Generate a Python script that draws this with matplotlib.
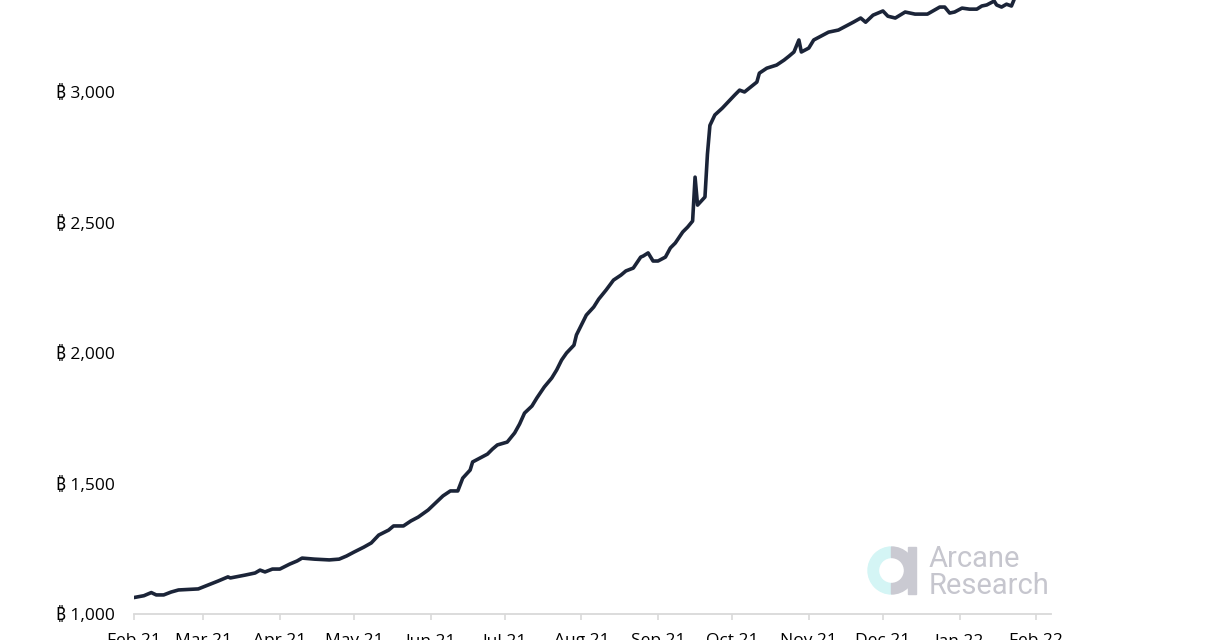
import matplotlib
matplotlib.use('Agg')
import matplotlib.pyplot as plt
import matplotlib.dates as mdates
from matplotlib.patches import Wedge, Rectangle
import pandas as pd

# BTC held
dates = ['2021-02-01', '2021-02-05', '2021-02-08', '2021-02-10', '2021-02-13', '2021-02-16',
         '2021-02-19', '2021-02-27', '2021-03-03', '2021-03-07', '2021-03-11', '2021-03-12',
         '2021-03-18', '2021-03-22', '2021-03-24', '2021-03-26', '2021-03-29', '2021-04-01',
         '2021-04-05', '2021-04-08', '2021-04-10', '2021-04-15', '2021-04-21', '2021-04-25',
         '2021-04-28', '2021-05-01', '2021-05-05', '2021-05-08', '2021-05-11', '2021-05-15',
         '2021-05-17', '2021-05-21', '2021-05-24', '2021-05-27', '2021-05-31', '2021-06-03',
         '2021-06-06', '2021-06-09', '2021-06-12', '2021-06-14', '2021-06-17', '2021-06-18',
         '2021-06-21', '2021-06-24', '2021-06-26', '2021-06-28', '2021-07-02', '2021-07-05',
         '2021-07-07', '2021-07-09', '2021-07-12', '2021-07-14', '2021-07-17', '2021-07-20',
         '2021-07-22', '2021-07-24', '2021-07-26', '2021-07-29', '2021-07-30', '2021-08-01',
         '2021-08-03', '2021-08-06', '2021-08-08', '2021-08-11', '2021-08-14', '2021-08-17',
         '2021-08-19', '2021-08-22', '2021-08-25', '2021-08-26', '2021-08-28', '2021-08-30',
         '2021-09-01', '2021-09-04', '2021-09-06', '2021-09-08', '2021-09-11', '2021-09-13',
         '2021-09-15', '2021-09-16', '2021-09-17', '2021-09-20', '2021-09-21', '2021-09-22',
         '2021-09-24', '2021-09-27', '2021-09-29', '2021-10-02', '2021-10-04', '2021-10-06',
         '2021-10-08', '2021-10-11', '2021-10-12', '2021-10-15', '2021-10-19', '2021-10-22',
         '2021-10-24', '2021-10-26', '2021-10-28', '2021-10-29', '2021-11-01', '2021-11-03',
         '2021-11-06', '2021-11-09', '2021-11-13', '2021-11-16', '2021-11-19', '2021-11-22',
         '2021-11-24', '2021-11-27', '2021-12-01', '2021-12-03', '2021-12-06', '2021-12-10',
         '2021-12-14', '2021-12-19', '2021-12-24', '2021-12-26', '2021-12-28', '2021-12-30',
         '2022-01-02', '2022-01-05', '2022-01-08', '2022-01-10', '2022-01-12', '2022-01-15',
         '2022-01-16', '2022-01-18', '2022-01-20', '2022-01-22', '2022-01-23', '2022-01-24']
btc = [1063, 1070, 1082, 1073, 1073, 1084,
       1092, 1096, 1111, 1126, 1142, 1138,
       1149, 1157, 1168, 1161, 1172, 1172,
       1191, 1203, 1214, 1210, 1207, 1210,
       1222, 1237, 1256, 1272, 1302, 1321,
       1337, 1337, 1356, 1371, 1398, 1425,
       1452, 1471, 1471, 1520, 1551, 1582,
       1597, 1612, 1631, 1647, 1658, 1693,
       1727, 1769, 1796, 1827, 1869, 1903,
       1934, 1972, 1999, 2029, 2068, 2106,
       2144, 2175, 2205, 2240, 2278, 2297,
       2313, 2324, 2366, 2370, 2382, 2351,
       2351, 2366, 2401, 2420, 2462, 2481,
       2504, 2672, 2565, 2596, 2760, 2870,
       2910, 2936, 2956, 2986, 3005, 2998,
       3013, 3036, 3070, 3089, 3101, 3120,
       3135, 3151, 3197, 3151, 3166, 3197,
       3212, 3227, 3235, 3250, 3265, 3281,
       3265, 3292, 3308, 3288, 3281, 3304,
       3296, 3296, 3323, 3323, 3300, 3304,
       3319, 3315, 3315, 3327, 3331, 3346,
       3331, 3323, 3334, 3327, 3350, 3390]

yticks = [1000, 1500, 2000, 2500, 3000]

plt.rcParams['font.family'] = ['Open Sans', 'Noto Sans', 'DejaVu Sans']

W, H = 1216, 640
fig = plt.figure(figsize=(W / 100, H / 100), dpi=100)
ax = fig.add_axes([134 / W, 26 / H, (1051 - 134) / W, 614 / H])

ax.plot(pd.to_datetime(dates), btc, color='#1b2438', lw=2.6, solid_joinstyle='round')

ax.set_ylim(1000, 3350)
ax.set_xlim(pd.Timestamp('2021-02-01'), pd.Timestamp('2022-02-07'))
ax.set_yticks(yticks)
ax.set_yticklabels(['\u20bf {:,}'.format(v) for v in yticks])
ax.xaxis.set_major_locator(mdates.MonthLocator())
ax.xaxis.set_major_formatter(mdates.DateFormatter('%b %y'))

for s in ['top', 'right', 'left']:
    ax.spines[s].set_visible(False)
ax.spines['bottom'].set_color('#d9d9d9')
ax.spines['bottom'].set_linewidth(1.3)
ax.tick_params(axis='y', length=0, pad=14, labelsize=12.5, labelcolor='#000000')
ax.tick_params(axis='x', length=4.5, width=1.2, color='#d9d9d9', pad=9.5,
               labelsize=12.5, labelcolor='#000000')

# watermark logo
lg = fig.add_axes([866 / W, (H - 597) / H, 52 / W, 52 / H])
lg.set_xlim(0, 52)
lg.set_ylim(0, 52)
lg.axis('off')
lg.add_patch(Wedge((25.5, 26.5), 23.5, 90, 270, width=10.5, color='#d4f5f5'))
lg.add_patch(Wedge((25.5, 26.5), 23.5, -90, 90, width=10.5, color='#cacad2'))
lg.add_patch(Rectangle((42, 3), 8, 47, color='#cacad2'))
fig.text(929 / W, (H - 567) / H, 'Arcane', fontsize=21, color='#c6c6ce',
         family=['Roboto', 'DejaVu Sans'], va='baseline', ha='left')
fig.text(929 / W, (H - 594) / H, 'Research', fontsize=21, color='#c6c6ce',
         family=['Roboto', 'DejaVu Sans'], va='baseline', ha='left')

fig.savefig('out.png', dpi=100)
